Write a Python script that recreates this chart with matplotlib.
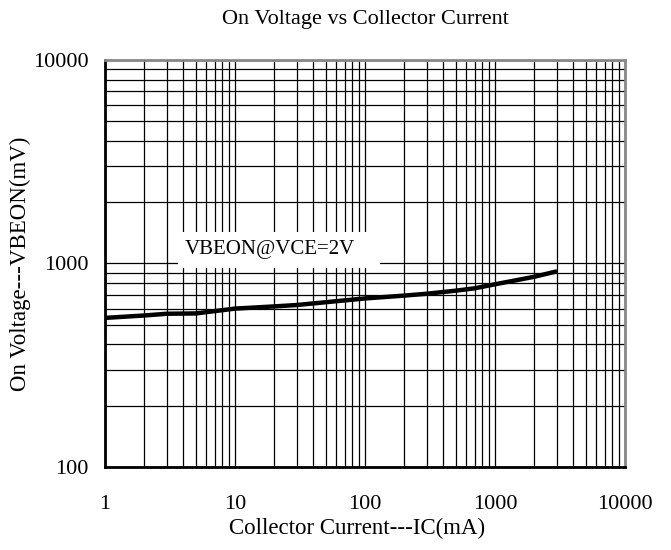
import numpy as np
import matplotlib.pyplot as plt
from matplotlib.patches import Rectangle

# collector current (mA) and on voltage (mV)
ic_ma = [1, 2, 3, 5, 10, 20, 30, 50, 100, 200, 300, 500, 700, 1000, 2000, 3000]
vbeon_mv = [540, 555, 566, 568, 600, 615, 625, 645, 673, 695, 710, 735, 755, 790, 860, 915]

x_ticks = [1, 10, 100, 1000, 10000]
y_ticks = [100, 1000, 10000]

plt.rcParams['font.family'] = ['Liberation Serif', 'DejaVu Serif']

fig = plt.figure(figsize=(6.71, 5.5), dpi=100)
ax = fig.add_axes([0.1565, 0.151, 0.775, 0.740])

ax.set_xscale('log')
ax.set_yscale('log')
ax.set_xlim(1, 10000)
ax.set_ylim(100, 10000)

# full log grid, every minor line drawn
ax.grid(True, which='both', color='black', linewidth=0.9)
ax.set_axisbelow(True)

ax.plot(ic_ma, vbeon_mv, color='black', linewidth=3.2, solid_capstyle='butt', zorder=4)

# white box behind the curve label
ax.add_patch(Rectangle((0.140, 0.490), 0.388, 0.088, transform=ax.transAxes,
                       facecolor='white', edgecolor='none', zorder=3))
ax.text(0.153, 0.534, 'VBEON@VCE=2V', transform=ax.transAxes, fontsize=15,
        ha='left', va='center', zorder=5)

ax.set_xticks(x_ticks)
ax.set_xticklabels([str(v) for v in x_ticks])
ax.set_yticks(y_ticks)
ax.set_yticklabels([str(v) for v in y_ticks])
ax.tick_params(which='both', length=0, labelsize=16)
ax.tick_params(axis='x', pad=20)
ax.tick_params(axis='y', pad=12)

for side in ['left', 'bottom']:
    ax.spines[side].set_linewidth(2)
    ax.spines[side].set_color('black')
for side in ['top', 'right']:
    ax.spines[side].set_linewidth(2)
    ax.spines[side].set_color('#888888')

ax.set_title('On Voltage vs Collector Current', fontsize=16, pad=26)
ax.set_xlabel('Collector Current---IC(mA)', fontsize=16.5, va='center')
ax.set_ylabel('On Voltage---VBEON(mV)', fontsize=16.5, va='center')
ax.xaxis.set_label_coords(0.485, -0.15)
ax.yaxis.set_label_coords(-0.163, 0.5)

fig.savefig('out.png', dpi=100)
